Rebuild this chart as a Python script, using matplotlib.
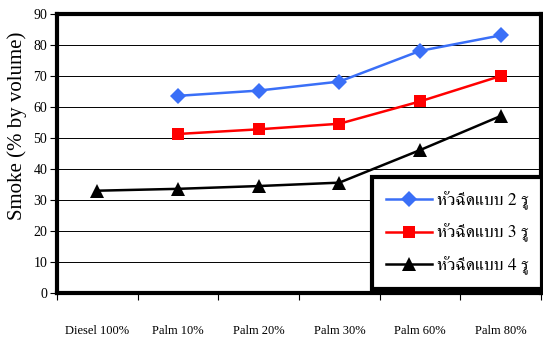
import matplotlib
matplotlib.use("Agg")
import matplotlib.pyplot as plt
import numpy as np

categories = ["Diesel 100%", "Palm 10%", "Palm 20%", "Palm 30%", "Palm 60%", "Palm 80%"]
series_names = ["หัวฉีดแบบ 2 รู", "หัวฉีดแบบ 3 รู", "หัวฉีดแบบ 4 รู"]
nozzle_2 = [np.nan, 63.6, 65.3, 68.2, 78.1, 83.1]
nozzle_3 = [np.nan, 51.3, 52.8, 54.6, 61.8, 70.0]
nozzle_4 = [33.0, 33.6, 34.5, 35.6, 46.1, 57.1]
y_ticks = list(range(0, 91, 10))

plt.rcParams["font.family"] = ["Liberation Serif", "FreeSerif"]

fig = plt.figure(figsize=(5.43, 3.43), dpi=100)
ax = fig.add_axes([57 / 543, 50 / 343, 484 / 543, 279 / 343])

x = np.arange(len(categories))
styles = [
    (nozzle_2, "#3a6ff7", "D", 8.5),
    (nozzle_3, "#ff0000", "s", 8.5),
    (nozzle_4, "#000000", "^", 9.5),
]
for (vals, color, marker, ms), name in zip(styles, series_names):
    ax.plot(x, vals, color=color, marker=marker, markersize=ms, linewidth=1.8,
            markeredgewidth=0, label=name, zorder=3)

ax.set_xlim(-0.5, len(categories) - 0.5)
ax.set_ylim(0, 90)
ax.set_yticks(y_ticks)
ax.set_yticklabels([str(v) for v in y_ticks], fontsize=10)
ax.yaxis.grid(True, color="#000000", linewidth=0.7)
ax.set_axisbelow(True)

ax.set_xticks(x)
ax.set_xticklabels(categories, fontsize=9)
ax.set_xticks(np.arange(-0.5, len(categories)), minor=True)
ax.tick_params(axis="x", which="major", length=0, pad=23)
ax.tick_params(axis="x", which="minor", length=5, width=0.8, direction="out")
ax.tick_params(axis="y", length=5, width=0.8, direction="out", pad=2)

for side in ax.spines.values():
    side.set_linewidth(3)
    side.set_color("#000000")

ax.set_ylabel("Smoke (% by volume)", fontsize=15)
ax.yaxis.set_label_coords(-0.062, 0.60)

leg = ax.legend(loc="lower right", bbox_to_anchor=(1.003, 0.015),
                prop={"family": "FreeSerif", "size": 12.5},
                frameon=True, fancybox=False, handlelength=2.7,
                handletextpad=0.25, borderpad=0.8, labelspacing=0.8,
                borderaxespad=0)
leg.get_frame().set_edgecolor("#000000")
leg.get_frame().set_linewidth(3)
leg.get_frame().set_facecolor("#ffffff")
leg.get_frame().set_alpha(1)

fig.savefig("out.png", dpi=100)
